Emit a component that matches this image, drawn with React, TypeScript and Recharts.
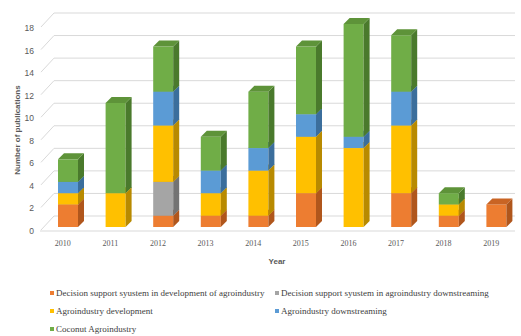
import React from 'react';
import { BarChart, Bar, XAxis, YAxis, CartesianGrid, Customized } from 'recharts';

const years = ['2010', '2011', '2012', '2013', '2014', '2015', '2016', '2017', '2018', '2019'];
const dssDevelopment = [2, 0, 1, 1, 1, 3, 0, 3, 1, 2];
const dssDownstreaming = [0, 0, 3, 0, 0, 0, 0, 0, 0, 0];
const agroDevelopment = [1, 3, 5, 2, 4, 5, 7, 6, 1, 0];
const agroDownstreaming = [1, 0, 3, 2, 2, 2, 1, 3, 0, 0];
const coconutAgro = [2, 8, 4, 3, 5, 6, 10, 5, 1, 0];
const yTicks = [0, 2, 4, 6, 8, 10, 12, 14, 16, 18];

const series = [
  { key: 'dssDev', name: 'Decision support syustem in development of agroindustry', values: dssDevelopment, color: '#ED7D31', side: '#b0561c', top: '#c96424' },
  { key: 'dssDown', name: 'Decision support syustem in agroindustry downstreaming', values: dssDownstreaming, color: '#A5A5A5', side: '#737373', top: '#8a8a8a' },
  { key: 'agroDev', name: 'Agroindustry development', values: agroDevelopment, color: '#FFC000', side: '#b88a00', top: '#d9a400' },
  { key: 'agroDown', name: 'Agroindustry downstreaming', values: agroDownstreaming, color: '#5B9BD5', side: '#3b6e9c', top: '#4a85ba' },
  { key: 'coconut', name: 'Coconut Agroindustry', values: coconutAgro, color: '#70AD47', side: '#4a7a2c', top: '#5e9339' },
];

const data = years.map((year, i) => {
  const row: Record<string, any> = { year };
  series.forEach((s) => { row[s.key] = s.values[i]; });
  return row;
});

const DEPTH = 6;

function Box3D(props: any) {
  const { x, y, width, height, fill, side, top } = props;
  if (!height || height <= 0) return null;
  const d = DEPTH;
  return (
    <g>
      <rect x={x} y={y} width={width} height={height} fill={fill} />
      <polygon
        points={`${x + width},${y} ${x + width + d},${y - d} ${x + width + d},${y + height - d} ${x + width},${y + height}`}
        fill={side}
      />
      <polygon points={`${x},${y} ${x + d},${y - d} ${x + width + d},${y - d} ${x + width},${y}`} fill={top} />
    </g>
  );
}

function gridLine(p: any) {
  const { x1, x2, y1 } = p;
  const back = y1 - 11;
  const isFloor = Math.abs(y1 - 227) < 1;
  return (
    <g key={p.key}>
      <path d={`M${x1 - 3},${y1 + 3} L${x1 + 10},${back} H${x2 - 5}`} stroke="#d9d9d9" fill="none" strokeWidth={1} />
      {isFloor && <path d={`M${x1 - 4},${y1 + 4} H${x2 - 5}`} stroke="#d9d9d9" fill="none" strokeWidth={1} />}
    </g>
  );
}

function YTick({ y, payload }: any) {
  return (
    <text x={34} y={y + 4} textAnchor="end" dominantBaseline="central" fontSize={8.5} fontFamily="Liberation Sans, Arial" fill="#595959">
      {payload.value}
    </text>
  );
}

function XTick({ x, y, payload }: any) {
  return (
    <text x={x - 5} y={y} dy={8} textAnchor="middle" dominantBaseline="central" fontSize={8} fontFamily="Liberation Serif, serif" fill="#595959">
      {payload.value}
    </text>
  );
}

function Titles() {
  return (
    <g fontFamily="Liberation Sans, Arial" fontSize={8} fontWeight="bold" fill="#595959">
      <text transform="translate(17,130) rotate(-90)" textAnchor="middle" dominantBaseline="central">
        Number of publications
      </text>
      <text x={277} y={261} textAnchor="middle" dominantBaseline="central">
        Year
      </text>
    </g>
  );
}

export default function App() {
  return (
    <div style={{ position: 'absolute', left: 0, top: 0, width: 521, height: 336, background: '#fff' }}>
      <BarChart width={521} height={336} data={data} margin={{ top: 24, right: 1, bottom: 79, left: 0 }}>
        <CartesianGrid vertical={false} horizontal={gridLine} />
        <XAxis dataKey="year" height={30} tickLine={false} axisLine={false} tick={<XTick />} interval={0} />
        <YAxis width={44} domain={[0, 18]} ticks={yTicks} interval={0} tickLine={false} axisLine={false} tick={<YTick />} />
        {series.map((s) => (
          <Bar
            key={s.key}
            dataKey={s.key}
            name={s.name}
            stackId="a"
            fill={s.color}
            barSize={20}
            isAnimationActive={false}
            shape={(p: any) => <Box3D {...p} side={s.side} top={s.top} />}
          />
        ))}
        <Customized component={Titles} />
      </BarChart>
      <div
        style={{
          position: 'absolute',
          left: 50,
          top: 286,
          display: 'grid',
          gridTemplateColumns: '225px 240px',
          rowGap: 4,
          fontFamily: 'Liberation Serif, Times New Roman, serif',
          fontSize: 9,
          color: '#404040',
          lineHeight: '14px',
        }}
      >
        {series.map((s) => (
          <div key={s.key} style={{ display: 'flex', alignItems: 'center', whiteSpace: 'nowrap' }}>
            <span style={{ width: 4, height: 4, background: s.color, marginRight: 2, display: 'inline-block' }} />
            {s.name}
          </div>
        ))}
      </div>
    </div>
  );
}
